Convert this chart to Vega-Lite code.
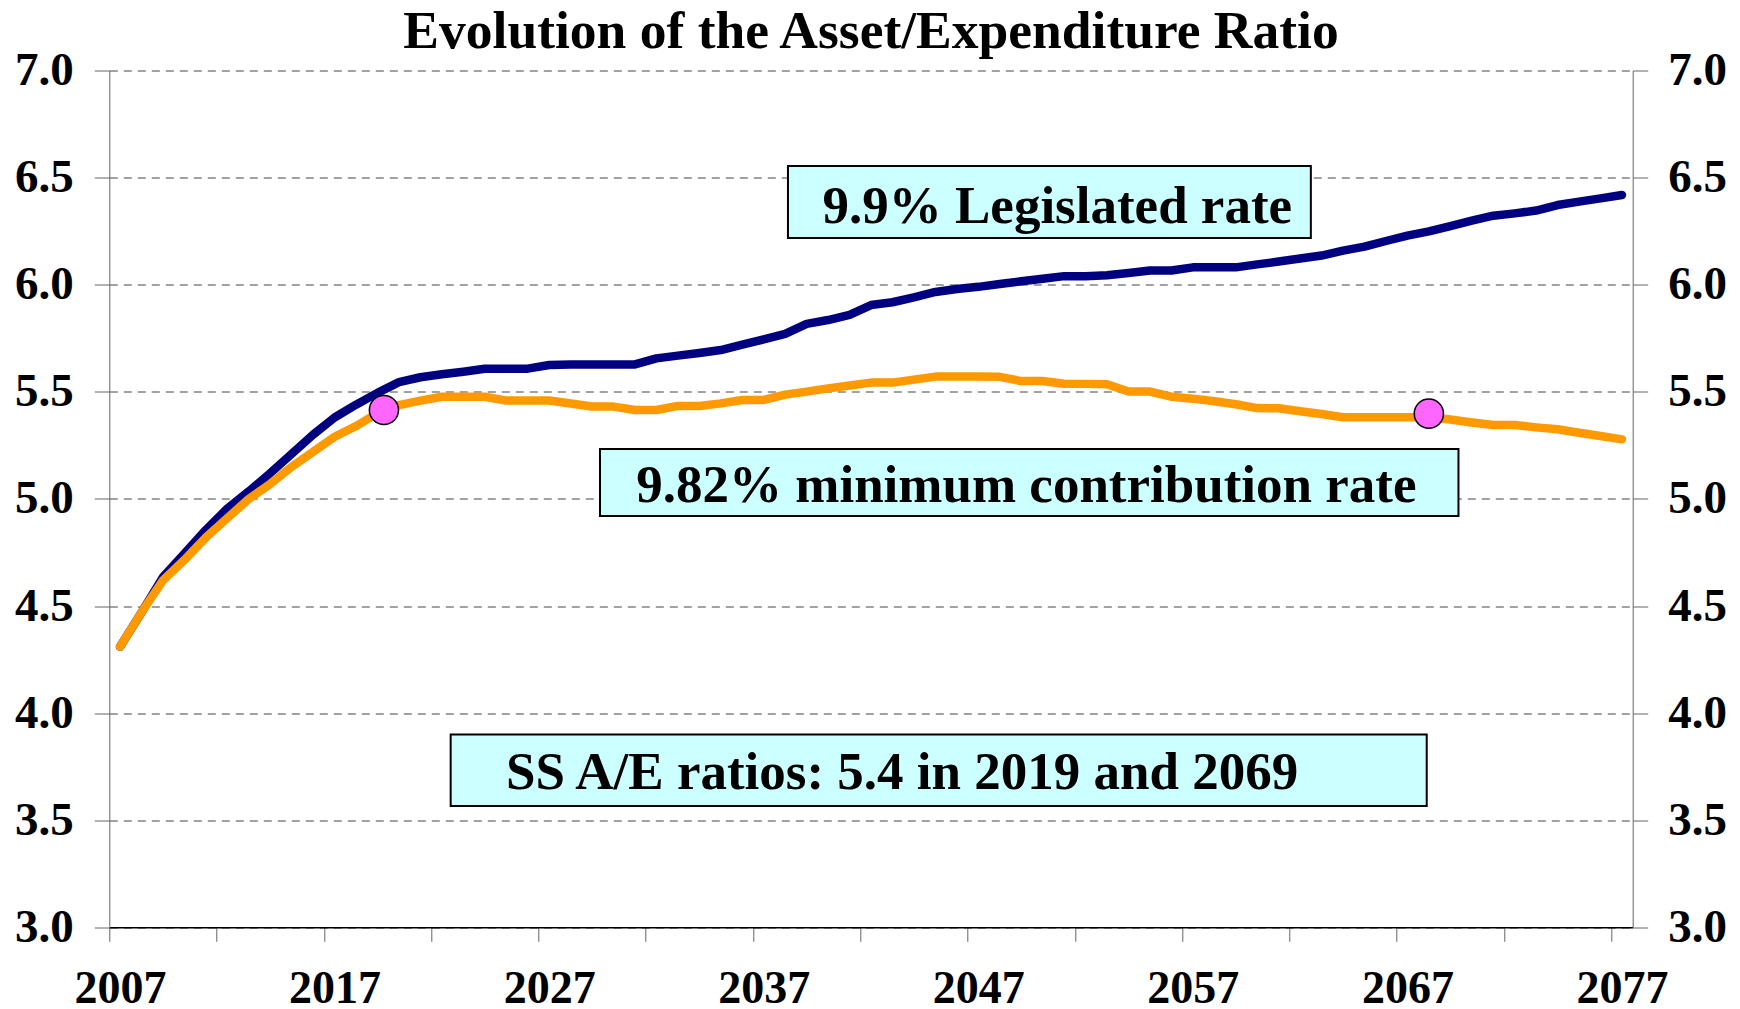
{
  "$schema": "https://vega.github.io/schema/vega-lite/v6.json",
  "width": 1523.4,
  "height": 856.8,
  "autosize": {"type": "none"},
  "padding": {"left": 109.3, "top": 70.5, "right": 107.3, "bottom": 81.7},
  "background": "white",
  "title": {
    "text": "Evolution of the Asset/Expenditure Ratio",
    "font": "Liberation Serif",
    "fontSize": 53.5,
    "fontWeight": "bold",
    "color": "black",
    "anchor": "middle",
    "frame": "group",
    "offset": -13
  },
  "config": {"view": {"stroke": null}, "font": "Liberation Serif"},
  "datasets": {
    "legislated": [
      {"year": 2007, "ratio": 4.31}, {"year": 2008, "ratio": 4.47}, {"year": 2009, "ratio": 4.635}, {"year": 2010, "ratio": 4.745},
      {"year": 2011, "ratio": 4.855}, {"year": 2012, "ratio": 4.955}, {"year": 2013, "ratio": 5.035}, {"year": 2014, "ratio": 5.12},
      {"year": 2015, "ratio": 5.21}, {"year": 2016, "ratio": 5.30}, {"year": 2017, "ratio": 5.38}, {"year": 2018, "ratio": 5.44},
      {"year": 2019, "ratio": 5.495}, {"year": 2020, "ratio": 5.545}, {"year": 2021, "ratio": 5.568}, {"year": 2022, "ratio": 5.582},
      {"year": 2023, "ratio": 5.594}, {"year": 2024, "ratio": 5.608}, {"year": 2025, "ratio": 5.608}, {"year": 2026, "ratio": 5.608},
      {"year": 2027, "ratio": 5.625}, {"year": 2028, "ratio": 5.627}, {"year": 2029, "ratio": 5.627}, {"year": 2030, "ratio": 5.627},
      {"year": 2031, "ratio": 5.628}, {"year": 2032, "ratio": 5.656}, {"year": 2033, "ratio": 5.669}, {"year": 2034, "ratio": 5.681},
      {"year": 2035, "ratio": 5.695}, {"year": 2036, "ratio": 5.72}, {"year": 2037, "ratio": 5.745}, {"year": 2038, "ratio": 5.77},
      {"year": 2039, "ratio": 5.817}, {"year": 2040, "ratio": 5.835}, {"year": 2041, "ratio": 5.859}, {"year": 2042, "ratio": 5.905},
      {"year": 2043, "ratio": 5.918}, {"year": 2044, "ratio": 5.941}, {"year": 2045, "ratio": 5.966}, {"year": 2046, "ratio": 5.98},
      {"year": 2047, "ratio": 5.99}, {"year": 2048, "ratio": 6.003}, {"year": 2049, "ratio": 6.016}, {"year": 2050, "ratio": 6.028},
      {"year": 2051, "ratio": 6.04}, {"year": 2052, "ratio": 6.04}, {"year": 2053, "ratio": 6.044}, {"year": 2054, "ratio": 6.055},
      {"year": 2055, "ratio": 6.066}, {"year": 2056, "ratio": 6.066}, {"year": 2057, "ratio": 6.081}, {"year": 2058, "ratio": 6.081},
      {"year": 2059, "ratio": 6.081}, {"year": 2060, "ratio": 6.095}, {"year": 2061, "ratio": 6.108}, {"year": 2062, "ratio": 6.122},
      {"year": 2063, "ratio": 6.136}, {"year": 2064, "ratio": 6.159}, {"year": 2065, "ratio": 6.178}, {"year": 2066, "ratio": 6.204},
      {"year": 2067, "ratio": 6.229}, {"year": 2068, "ratio": 6.249}, {"year": 2069, "ratio": 6.274}, {"year": 2070, "ratio": 6.299},
      {"year": 2071, "ratio": 6.322}, {"year": 2072, "ratio": 6.333}, {"year": 2073, "ratio": 6.346}, {"year": 2074, "ratio": 6.372},
      {"year": 2075, "ratio": 6.388}, {"year": 2076, "ratio": 6.403}, {"year": 2077, "ratio": 6.419}
    ],
    "minimum": [
      {"year": 2007, "ratio": 4.31}, {"year": 2008, "ratio": 4.47}, {"year": 2009, "ratio": 4.62}, {"year": 2010, "ratio": 4.715},
      {"year": 2011, "ratio": 4.82}, {"year": 2012, "ratio": 4.91}, {"year": 2013, "ratio": 5.0}, {"year": 2014, "ratio": 5.07},
      {"year": 2015, "ratio": 5.15}, {"year": 2016, "ratio": 5.22}, {"year": 2017, "ratio": 5.29}, {"year": 2018, "ratio": 5.34},
      {"year": 2019, "ratio": 5.40}, {"year": 2020, "ratio": 5.438}, {"year": 2021, "ratio": 5.459}, {"year": 2022, "ratio": 5.477},
      {"year": 2023, "ratio": 5.477}, {"year": 2024, "ratio": 5.477}, {"year": 2025, "ratio": 5.459}, {"year": 2026, "ratio": 5.459},
      {"year": 2027, "ratio": 5.459}, {"year": 2028, "ratio": 5.445}, {"year": 2029, "ratio": 5.431}, {"year": 2030, "ratio": 5.431},
      {"year": 2031, "ratio": 5.415}, {"year": 2032, "ratio": 5.415}, {"year": 2033, "ratio": 5.434}, {"year": 2034, "ratio": 5.434},
      {"year": 2035, "ratio": 5.446}, {"year": 2036, "ratio": 5.462}, {"year": 2037, "ratio": 5.462}, {"year": 2038, "ratio": 5.487},
      {"year": 2039, "ratio": 5.501}, {"year": 2040, "ratio": 5.516}, {"year": 2041, "ratio": 5.529}, {"year": 2042, "ratio": 5.543},
      {"year": 2043, "ratio": 5.543}, {"year": 2044, "ratio": 5.557}, {"year": 2045, "ratio": 5.571}, {"year": 2046, "ratio": 5.571},
      {"year": 2047, "ratio": 5.571}, {"year": 2048, "ratio": 5.57}, {"year": 2049, "ratio": 5.55}, {"year": 2050, "ratio": 5.55},
      {"year": 2051, "ratio": 5.538}, {"year": 2052, "ratio": 5.537}, {"year": 2053, "ratio": 5.535}, {"year": 2054, "ratio": 5.501},
      {"year": 2055, "ratio": 5.501}, {"year": 2056, "ratio": 5.477}, {"year": 2057, "ratio": 5.468}, {"year": 2058, "ratio": 5.456},
      {"year": 2059, "ratio": 5.442}, {"year": 2060, "ratio": 5.424}, {"year": 2061, "ratio": 5.423}, {"year": 2062, "ratio": 5.409},
      {"year": 2063, "ratio": 5.396}, {"year": 2064, "ratio": 5.381}, {"year": 2065, "ratio": 5.381}, {"year": 2066, "ratio": 5.381},
      {"year": 2067, "ratio": 5.381}, {"year": 2068, "ratio": 5.381}, {"year": 2069, "ratio": 5.371}, {"year": 2070, "ratio": 5.357},
      {"year": 2071, "ratio": 5.345}, {"year": 2072, "ratio": 5.345}, {"year": 2073, "ratio": 5.334}, {"year": 2074, "ratio": 5.325},
      {"year": 2075, "ratio": 5.309}, {"year": 2076, "ratio": 5.294}, {"year": 2077, "ratio": 5.278}
    ],
    "markers": [
      {"year": 2019.3, "ratio": 5.415},
      {"year": 2068.0, "ratio": 5.398}
    ],
    "boxes": [
      {"year": 2038.13, "year2": 2062.5, "ratio": 6.554, "ratio2": 6.218},
      {"year": 2029.37, "year2": 2069.38, "ratio": 5.233, "ratio2": 4.92},
      {"year": 2022.41, "year2": 2067.9, "ratio": 3.9, "ratio2": 3.566}
    ],
    "notes": [
      {"year": 2039.74, "ratio": 6.289, "label": "9.9% Legislated rate"},
      {"year": 2031.06, "ratio": 4.987, "label": "9.82% minimum contribution rate"},
      {"year": 2024.99, "ratio": 3.646, "label": "SS A/E ratios: 5.4 in 2019 and 2069"}
    ]
  },
  "encoding": {
    "x": {
      "field": "year",
      "type": "quantitative",
      "scale": {"domain": [2006.5, 2077.5], "nice": false, "zero": false},
      "axis": {
        "title": null,
        "values": [2006.5, 2011.5, 2016.5, 2021.5, 2026.5, 2031.5, 2036.5, 2041.5, 2046.5, 2051.5, 2056.5, 2061.5, 2066.5, 2071.5, 2076.5],
        "labelExpr": "(datum.value - 2006.5) % 10 == 0 ? format(datum.value + 0.5, 'd') : ''",
        "labelOffset": 10.73,
        "labelFlush": false,
        "labelOverlap": false,
        "labelBound": false,
        "labelFont": "Liberation Serif",
        "labelFontSize": 46,
        "labelFontWeight": "bold",
        "labelColor": "black",
        "labelBaseline": "alphabetic",
        "labelPadding": 61,
        "tickSize": 14,
        "tickColor": "#666666",
        "tickWidth": 1,
        "domainColor": "black",
        "domainWidth": 1.5,
        "grid": false
      }
    },
    "y": {
      "field": "ratio",
      "type": "quantitative",
      "scale": {"domain": [3, 7], "nice": false, "zero": false},
      "axis": null
    }
  },
  "layer": [
    {
      "data": {"name": "boxes"},
      "mark": {"type": "rect", "fill": "#CCFFFF", "stroke": "black", "strokeWidth": 2},
      "encoding": {
        "y": {
          "field": "ratio",
          "type": "quantitative",
          "axis": {
            "orient": "left",
            "title": null,
            "values": [3, 3.5, 4, 4.5, 5, 5.5, 6, 6.5, 7],
            "format": ".1f",
            "labelFont": "Liberation Serif",
            "labelFontSize": 47,
            "labelFontWeight": "bold",
            "labelColor": "black",
            "labelPadding": 21,
            "labelFlush": false,
            "labelOverlap": false,
            "labelBound": false,
            "tickSize": 15,
            "tickColor": "#666666",
            "domainColor": "#666666",
            "domainWidth": 1,
            "grid": true,
            "gridDash": [8, 6],
            "gridColor": "#444444",
            "gridWidth": 1
          }
        },
        "x2": {"field": "year2"},
        "y2": {"field": "ratio2"}
      }
    },
    {
      "data": {"name": "legislated"},
      "mark": {"type": "line", "color": "#000080", "strokeWidth": 8.5, "strokeCap": "round", "strokeJoin": "round"},
      "encoding": {
        "y": {
          "field": "ratio",
          "type": "quantitative",
          "axis": {
            "orient": "right",
            "title": null,
            "values": [3, 3.5, 4, 4.5, 5, 5.5, 6, 6.5, 7],
            "format": ".1f",
            "labelFont": "Liberation Serif",
            "labelFontSize": 47,
            "labelFontWeight": "bold",
            "labelColor": "black",
            "labelPadding": 20,
            "labelFlush": false,
            "labelOverlap": false,
            "labelBound": false,
            "tickSize": 15,
            "tickColor": "#666666",
            "domainColor": "#666666",
            "domainWidth": 1,
            "grid": false
          }
        }
      }
    },
    {
      "data": {"name": "minimum"},
      "mark": {"type": "line", "color": "#FF9900", "strokeWidth": 8.5, "strokeCap": "round", "strokeJoin": "round"}
    },
    {
      "data": {"name": "markers"},
      "mark": {"type": "point", "shape": "circle", "filled": true, "fill": "#FF66FF", "stroke": "black", "strokeWidth": 1.5, "size": 850, "opacity": 1}
    },
    {
      "data": {"name": "notes"},
      "mark": {"type": "text", "align": "left", "baseline": "alphabetic", "font": "Liberation Serif", "fontSize": 53, "fontWeight": "bold", "color": "black"},
      "encoding": {"text": {"field": "label"}}
    }
  ],
  "resolve": {"axis": {"y": "independent"}}
}
